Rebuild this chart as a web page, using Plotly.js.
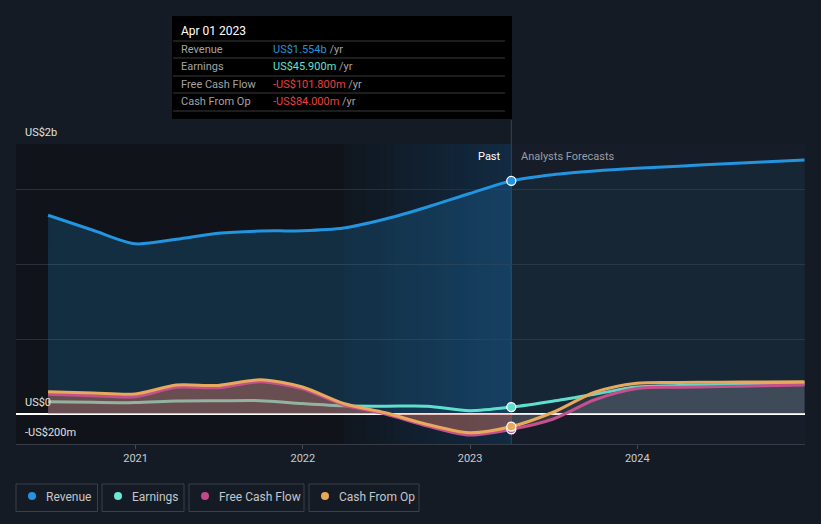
<!DOCTYPE html>
<html>
<head>
<meta charset="utf-8">
<script src="https://cdn.plot.ly/plotly-3.0.1.min.js"></script>
<style>
  html, body { margin:0; padding:0; background:#151b24; }
  #chart { width:821px; height:524px; }
</style>
</head>
<body>
<div id="chart"></div>
<script>
// ---- data (US$ millions) ----
const pastDates = ['2020-06-24','2020-09-30','2020-12-31','2021-03-31','2021-06-30','2021-09-30','2021-12-31','2022-03-31','2022-06-30','2022-09-30','2022-12-31','2023-04-01'];
const revenuePast  = [1325,1225,1135,1165,1205,1220,1222,1240,1300,1380,1470,1554];
const earningsPast = [82,78,76,86,88,89,70,55,52,52,22,45.9];
const fcfPast      = [132,122,115,178,175,215,168,60,0,-80,-140,-101.8];
const cfoPast      = [149,140,133,193,190,228,180,70,8,-70,-125,-84];

const forecastDates = ['2023-04-01','2023-06-30','2023-09-30','2023-12-31','2024-03-31','2024-06-30','2024-09-30','2024-12-31'];
const revenueFc  = [1554,1595,1620,1638,1652,1667,1680,1693];
const earningsFc = [45.9,85,132,180,190,195,200,203];
const fcfFc      = [-101.8,-35,95,170,178,183,188,193];
const cfoFc      = [-84,10,145,205,210,212,214,215];

const highlightStart = '2022-04-01';
const lastPast = '2023-04-01';
const xRange = ['2020-04-15','2025-01-01'];
const xTicks = ['2021-01-01','2022-01-01','2023-01-01','2024-01-01'];
const xTickText = ['2021','2022','2023','2024'];
const yRange = [-200,1800];
const gridVals = [500,1000,1500,1800];

const tooltipTitle = 'Apr 01 2023';
const tooltipRows = [
  ['Revenue','US$1.554b','#2394df'],
  ['Earnings','US$45.900m','#5fe0cf'],
  ['Free Cash Flow','-US$101.800m','#e8413f'],
  ['Cash From Op','-US$84.000m','#e8413f']
];
const legendItems = [
  ['Revenue','#2394df'],
  ['Earnings','#6fe6d4'],
  ['Free Cash Flow','#c4488a'],
  ['Cash From Op','#e8a85a']
];

// ---- colours ----
const C = { rev:'#2394df', earn:'#5fe0cf', fcf:'#c4508c', cfo:'#e8a95c' };

// helpers for decoration placement (pixels -> paper)
const L=16, R=805, T=144, B=444;
const px = p => (p-L)/(R-L);
const py = p => (B-p)/(B-T);

const allDates = pastDates.concat(forecastDates.slice(1));
const earningsAll = earningsPast.concat(earningsFc.slice(1));
const revenueAll = revenuePast.concat(revenueFc.slice(1));
const fcfAll = fcfPast.concat(fcfFc.slice(1));
const cfoAll = cfoPast.concat(cfoFc.slice(1));

const sp = {shape:'spline', smoothing:0.8};
const traces = [
  {x:pastDates, y:revenuePast, type:'scatter', mode:'none', fill:'tozeroy', fillcolor:'rgba(35,148,223,0.20)', line:sp, hoverinfo:'skip'},
  {x:forecastDates, y:revenueFc, type:'scatter', mode:'none', fill:'tozeroy', fillcolor:'rgba(35,148,223,0.08)', line:sp, hoverinfo:'skip'},
  {x:allDates, y:earningsAll, type:'scatter', mode:'lines', line:{color:C.earn, width:3, shape:'spline', smoothing:0.8}, hoverinfo:'skip'},
  {x:pastDates, y:fcfPast, type:'scatter', mode:'none', fill:'tozeroy', fillcolor:'rgba(215,115,105,0.25)', line:sp, hoverinfo:'skip'},
  {x:pastDates, y:cfoPast, type:'scatter', mode:'none', fill:'tozeroy', fillcolor:'rgba(215,125,105,0.25)', line:sp, hoverinfo:'skip'},
  {x:forecastDates, y:fcfFc, type:'scatter', mode:'none', fill:'tozeroy', fillcolor:'rgba(150,150,160,0.22)', line:sp, hoverinfo:'skip'},
  {x:forecastDates, y:cfoFc, type:'scatter', mode:'none', fill:'tozeroy', fillcolor:'rgba(150,150,160,0.14)', line:sp, hoverinfo:'skip'},
  {x:allDates, y:revenueAll, type:'scatter', mode:'lines', line:{color:C.rev, width:3, shape:'spline', smoothing:0.8}, hoverinfo:'skip'},
  {x:allDates, y:fcfAll, type:'scatter', mode:'lines', line:{color:C.fcf, width:3, shape:'spline', smoothing:0.8}, hoverinfo:'skip'},
  {x:allDates, y:cfoAll, type:'scatter', mode:'lines', line:{color:C.cfo, width:3, shape:'spline', smoothing:0.8}, hoverinfo:'skip'},
  {x:[lastPast,lastPast,lastPast,lastPast],
   y:[fcfPast[fcfPast.length-1], cfoPast[cfoPast.length-1], earningsPast[earningsPast.length-1], revenuePast[revenuePast.length-1]],
   type:'scatter', mode:'markers',
   marker:{size:9, color:[C.fcf,C.cfo,C.earn,C.rev], line:{color:'#ffffff', width:1.3}}, hoverinfo:'skip'}
];

// background regions
const shapes = [
  {type:'rect', xref:'x', yref:'paper', x0:xRange[0], x1:highlightStart, y0:0, y1:1, fillcolor:'#10141a', line:{width:0}, layer:'below'}
];
// horizontal gradient for the last-year highlight (opaque overlapping strips)
const t0 = new Date(highlightStart).getTime(), t1 = new Date(lastPast).getTime();
const N = 24;
const cA = [16,23,31], cB = [18,42,66];
for (let i=0;i<N;i++){
  const a = new Date(t0 + (t1-t0)*i/N).toISOString().slice(0,10);
  const b = new Date(t0 + (t1-t0)*Math.min(1,(i+1.6)/N)).toISOString().slice(0,10);
  const f = i/(N-1);
  const col = 'rgb('+cA.map((v,k)=>Math.round(v+(cB[k]-v)*f)).join(',')+')';
  shapes.push({type:'rect', xref:'x', yref:'paper', x0:a, x1:b, y0:0, y1:1, fillcolor:col, line:{width:0}, layer:'below'});
}
// divider line at last reported date
shapes.push({type:'line', xref:'x', yref:'paper', x0:lastPast, x1:lastPast, y0:0, y1:py(120), line:{color:'#2b4660', width:1}, layer:'below'});

// tooltip box
shapes.push({type:'rect', xref:'paper', yref:'paper', x0:px(172), x1:px(512), y0:py(16), y1:py(119), fillcolor:'#000000', line:{width:0}});
[41,58,76,93,111].forEach(yy=>{
  shapes.push({type:'line', xref:'paper', yref:'paper', x0:px(173), x1:px(505), y0:py(yy), y1:py(yy), line:{color:'#3a3a3a', width:1}});
});

const annotations = [];
const ann = (text, x, y, opts={}) => annotations.push(Object.assign({
  text, x:px(x), y:py(y), xref:'paper', yref:'paper', showarrow:false,
  xanchor:'left', yanchor:'middle', font:{family:'Roboto, sans-serif', size:11, color:'#e6e6e6'}
}, opts));

ann(tooltipTitle, 179, 31, {font:{family:'Roboto, sans-serif', size:12, color:'#ffffff'}});
const rowY = [49.5, 66.5, 84, 101];
tooltipRows.forEach((r,i)=>{
  ann(r[0], 179, rowY[i], {font:{family:'Roboto, sans-serif', size:11, color:'#a3a3a3'}});
  ann('<span style="color:'+r[2]+'">'+r[1]+'</span> /yr', 271, rowY[i], {font:{family:'Roboto, sans-serif', size:11, color:'#a3a3a3'}});
});

// axis value labels
ann('US$2b', 23, 132, {font:{family:'Roboto, sans-serif', size:11, color:'#e0e0e0'}});
ann('US$0', 23, 402, {font:{family:'Roboto, sans-serif', size:11, color:'#e0e0e0'}});
ann('-US$200m', 23, 432, {font:{family:'Roboto, sans-serif', size:11, color:'#e0e0e0'}});

// past / forecast labels
ann('Past', 503, 156, {xanchor:'right', font:{family:'Roboto, sans-serif', size:11, color:'#ffffff'}});
ann('Analysts Forecasts', 519, 156, {font:{family:'Roboto, sans-serif', size:11, color:'#9a9ea4'}});

// custom legend
const boxes = [[16,97.5],[102,184],[189,304],[309,419]];
const dotX = [32,118,205,325];
const txtX = [44,130,217,337];
legendItems.forEach((it,i)=>{
  shapes.push({type:'rect', xref:'paper', yref:'paper', x0:px(boxes[i][0]), x1:px(boxes[i][1]), y0:py(484), y1:py(511.5), fillcolor:'rgba(0,0,0,0)', line:{color:'#3a404a', width:1}});
  shapes.push({type:'circle', xref:'paper', yref:'paper', xsizemode:'pixel', ysizemode:'pixel', xanchor:px(dotX[i]), yanchor:py(496), x0:-4, x1:4, y0:-4, y1:4, fillcolor:it[1], line:{width:0}});
  ann(it[0], txtX[i], 496.5, {font:{family:'Roboto, sans-serif', size:12, color:'#c4c6c9'}});
});

const layout = {
  width:821, height:524,
  margin:{l:L, r:821-R, t:T, b:524-B, pad:0},
  paper_bgcolor:'#151b24',
  plot_bgcolor:'#161d28',
  showlegend:false,
  font:{family:'Roboto, sans-serif', color:'#c8ccd0'},
  xaxis:{type:'date', range:xRange, showgrid:false, zeroline:false,
    showline:true, linecolor:'#363c46', linewidth:1,
    ticks:'outside', ticklen:4, tickcolor:'#444a54', tickmode:'array', tickvals:xTicks, ticktext:xTickText,
    tickfont:{family:'Roboto, sans-serif', size:11, color:'#c8ccd0'}, fixedrange:true},
  yaxis:{range:yRange, tickvals:gridVals, showticklabels:false, showgrid:true, gridcolor:'#2a3039', gridwidth:1,
    zeroline:true, zerolinecolor:'#ffffff', zerolinewidth:1.5, fixedrange:true},
  shapes, annotations,
  hovermode:false
};

Plotly.newPlot('chart', traces, layout, {displayModeBar:false, staticPlot:true});
</script>
</body>
</html>
